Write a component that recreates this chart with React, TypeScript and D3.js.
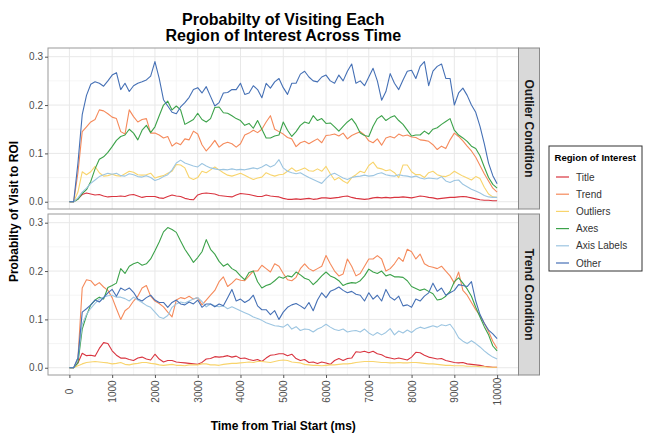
import React, { useEffect, useRef } from 'react';
import * as d3 from 'd3';

// Sample times (ms), one reading every 100 ms
const timeMs = d3.range(0, 10001, 100);
const timeTicks = d3.range(0, 10001, 1000);
const timeMinorTicks = d3.range(500, 10000, 1000);
const probTicks = [0, 0.1, 0.2, 0.3];
const probMinorTicks = [0.05, 0.15, 0.25];

const regions = ['Title', 'Trend', 'Outliers', 'Axes', 'Axis Labels', 'Other'];
const conditions = ['Outlier Condition', 'Trend Condition'];

// ---- Outlier condition ----
const titleOutlier = [
  0, 0, .006, .015, .018, .016, .014, .015, .012, .01,
  .011, .011, .012, .011, .014, .015, .012, .009, .011, .011,
  .011, .008, .007, .011, .014, .012, .011, .007, .005, .004,
  .014, .017, .018, .017, .016, .013, .012, .011, .01, .014,
  .017, .016, .015, .013, .011, .011, .014, .012, .011, .01,
  .007, .005, .005, .006, .005, .006, .007, .005, .006, .008,
  .008, .007, .008, .009, .011, .012, .009, .007, .006, .005,
  .006, .008, .009, .008, .009, .008, .009, .009, .01, .009,
  .008, .01, .012, .011, .009, .008, .006, .007, .008, .009,
  .009, .01, .011, .01, .008, .006, .004, .003, .003, .002,
  .002
];
const trendOutlier = [
  0, 0, .06, .145, .155, .165, .17, .19, .188, .182,
  .175, .172, .145, .14, .19, .176, .165, .17, .172, .142,
  .142, .138, .132, .135, .115, .122, .118, .13, .128, .146,
  .14, .118, .105, .115, .127, .113, .12, .123, .12, .113,
  .12, .138, .142, .148, .143, .15, .165, .178, .15, .145,
  .14, .133, .13, .114, .122, .125, .12, .125, .13, .122,
  .137, .138, .14, .136, .142, .13, .137, .141, .145, .138,
  .126, .122, .13, .117, .132, .135, .132, .14, .136, .138,
  .134, .133, .128, .127, .125, .118, .108, .115, .11, .128,
  .142, .135, .126, .115, .105, .092, .075, .058, .043, .028,
  .02
];
const outliersOutlier = [
  0, 0, .02, .062, .056, .062, .073, .06, .053, .054,
  .057, .054, .053, .058, .063, .061, .056, .055, .056, .059,
  .049, .052, .054, .059, .063, .077, .076, .07, .05, .046,
  .05, .063, .06, .066, .072, .066, .06, .055, .053, .056,
  .059, .055, .05, .046, .049, .051, .06, .056, .053, .056,
  .057, .063, .07, .063, .066, .07, .064, .063, .068, .063,
  .073, .058, .045, .05, .043, .038, .05, .056, .063, .06,
  .075, .082, .07, .068, .064, .066, .06, .05, .076, .076,
  .062, .056, .056, .05, .06, .063, .056, .053, .052, .056,
  .063, .058, .053, .049, .045, .052, .048, .03, .016, .01,
  .009
];
const axesOutlier = [
  0, 0, .005, .017, .025, .042, .068, .088, .093, .102,
  .114, .127, .135, .138, .15, .142, .128, .148, .158, .143,
  .155, .178, .2, .208, .19, .198, .19, .16, .165, .17,
  .183, .17, .165, .172, .195, .196, .184, .183, .178, .172,
  .168, .158, .162, .152, .168, .15, .132, .132, .136, .138,
  .165, .148, .135, .145, .158, .165, .162, .178, .168, .172,
  .162, .163, .155, .146, .156, .165, .172, .16, .142, .137,
  .135, .156, .172, .178, .168, .174, .178, .168, .16, .148,
  .136, .138, .138, .146, .14, .15, .153, .16, .166, .172,
  .148, .138, .132, .125, .115, .11, .095, .072, .05, .036,
  .028
];
const axisLabelsOutlier = [
  0, 0, .008, .02, .028, .038, .045, .052, .056, .059,
  .057, .059, .054, .053, .058, .056, .052, .051, .054, .05,
  .044, .047, .052, .056, .066, .08, .086, .08, .077, .074,
  .072, .079, .074, .07, .068, .066, .067, .066, .068, .066,
  .067, .066, .068, .07, .068, .072, .077, .072, .076, .087,
  .07, .063, .06, .058, .06, .055, .05, .046, .042, .038,
  .048, .056, .059, .054, .049, .046, .05, .052, .053, .055,
  .053, .054, .058, .06, .056, .054, .053, .056, .054, .053,
  .051, .053, .049, .047, .049, .048, .047, .052, .043, .04,
  .044, .045, .036, .031, .026, .022, .018, .013, .01, .009,
  .009
];
const otherOutlier = [
  0, 0, .08, .18, .22, .243, .248, .245, .239, .25,
  .262, .267, .232, .245, .228, .24, .245, .248, .252, .26,
  .29, .255, .211, .198, .185, .182, .196, .205, .216, .232,
  .236, .225, .238, .218, .198, .205, .225, .226, .232, .232,
  .245, .222, .225, .24, .232, .215, .245, .235, .248, .255,
  .236, .222, .245, .245, .264, .27, .258, .25, .248, .258,
  .262, .25, .245, .262, .25, .27, .285, .245, .25, .24,
  .258, .276, .25, .21, .228, .265, .245, .232, .252, .27,
  .272, .255, .28, .29, .24, .27, .28, .285, .255, .255,
  .2, .225, .235, .22, .2, .185, .156, .12, .08, .054,
  .037
];

// ---- Trend condition ----
const titleTrend = [
  0, 0, .01, .03, .025, .026, .024, .04, .052, .05,
  .035, .026, .02, .02, .017, .015, .02, .022, .018, .016,
  .028, .018, .012, .015, .015, .012, .011, .01, .009, .008,
  .007, .011, .018, .019, .023, .022, .023, .025, .022, .024,
  .019, .02, .017, .015, .017, .013, .02, .026, .027, .029,
  .029, .025, .028, .019, .015, .017, .011, .012, .009, .012,
  .01, .007, .015, .019, .015, .019, .02, .033, .032, .034,
  .031, .034, .029, .027, .022, .02, .018, .02, .018, .016,
  .022, .032, .031, .026, .022, .02, .018, .019, .015, .013,
  .011, .01, .011, .008, .007, .006, .005, .003, .002, .001,
  .001
];
const trendTrend = [
  0, 0, .02, .165, .182, .18, .17, .176, .167, .16,
  .145, .122, .1, .118, .125, .138, .148, .165, .17, .148,
  .138, .133, .126, .115, .105, .14, .145, .143, .148, .142,
  .145, .13, .14, .15, .16, .178, .188, .168, .175, .184,
  .181, .18, .19, .2, .2, .212, .205, .198, .215, .21,
  .195, .182, .18, .187, .205, .215, .205, .2, .205, .21,
  .232, .215, .2, .19, .194, .225, .21, .19, .195, .21,
  .225, .225, .232, .225, .2, .205, .215, .228, .22, .245,
  .24, .225, .235, .215, .21, .208, .205, .21, .2, .19,
  .175, .198, .16, .15, .135, .12, .108, .092, .075, .055,
  .04
];
const outliersTrend = [
  0, 0, .004, .008, .011, .012, .013, .012, .011, .01,
  .008, .009, .011, .007, .006, .008, .009, .011, .011, .009,
  .008, .006, .005, .006, .007, .005, .005, .004, .006, .006,
  .006, .008, .008, .006, .006, .005, .007, .008, .009, .009,
  .01, .011, .012, .011, .013, .013, .012, .011, .013, .015,
  .016, .015, .012, .011, .01, .007, .006, .005, .005, .004,
  .005, .006, .006, .007, .008, .008, .009, .011, .012, .013,
  .013, .013, .012, .011, .011, .01, .01, .011, .01, .01,
  .011, .011, .01, .009, .008, .008, .007, .006, .005, .005,
  .004, .004, .004, .003, .003, .003, .002, .002, .001, .001,
  .001
];
const axesTrend = [
  0, 0, .01, .08, .108, .13, .14, .146, .142, .166,
  .17, .175, .205, .195, .21, .215, .218, .212, .215, .225,
  .242, .26, .281, .29, .286, .28, .262, .245, .232, .218,
  .228, .24, .265, .245, .235, .22, .21, .215, .205, .2,
  .19, .182, .197, .2, .178, .165, .17, .173, .18, .188,
  .185, .19, .188, .198, .192, .185, .182, .172, .18, .19,
  .198, .19, .186, .18, .17, .174, .176, .175, .18, .19,
  .204, .198, .195, .2, .19, .193, .188, .188, .187, .18,
  .168, .164, .16, .163, .158, .153, .14, .142, .148, .158,
  .178, .186, .175, .163, .148, .125, .105, .085, .068, .045,
  .035
];
const axisLabelsTrend = [
  0, 0, .02, .09, .11, .123, .133, .142, .146, .149,
  .15, .146, .146, .143, .138, .146, .14, .135, .129, .125,
  .115, .105, .102, .108, .125, .132, .136, .134, .138, .142,
  .145, .137, .126, .132, .128, .126, .128, .122, .126, .122,
  .118, .114, .11, .105, .102, .098, .093, .09, .087, .086,
  .084, .09, .08, .085, .077, .08, .079, .074, .08, .084,
  .09, .084, .079, .077, .08, .074, .076, .077, .074, .08,
  .072, .067, .073, .068, .073, .081, .068, .076, .072, .078,
  .073, .08, .084, .081, .084, .087, .084, .089, .087, .09,
  .078, .062, .055, .05, .056, .05, .043, .035, .028, .022,
  .018
];
const otherTrend = [
  0, 0, .02, .115, .122, .13, .14, .136, .145, .155,
  .162, .148, .165, .16, .165, .156, .142, .138, .145, .15,
  .14, .135, .135, .125, .135, .14, .132, .13, .136, .132,
  .14, .125, .132, .132, .126, .132, .128, .145, .162, .138,
  .142, .135, .14, .15, .128, .12, .12, .11, .118, .1,
  .115, .125, .13, .133, .128, .122, .135, .118, .14, .155,
  .145, .158, .162, .167, .16, .155, .158, .152, .15, .138,
  .155, .142, .15, .138, .162, .146, .14, .148, .128, .13,
  .125, .142, .138, .148, .155, .175, .158, .165, .15, .155,
  .16, .172, .17, .168, .178, .138, .11, .092, .078, .07,
  .06
];

const seriesByCondition = [
  [titleOutlier, trendOutlier, outliersOutlier, axesOutlier, axisLabelsOutlier, otherOutlier],
  [titleTrend, trendTrend, outliersTrend, axesTrend, axisLabelsTrend, otherTrend]
];

const regionColors = ['#d9343f', '#f58a5b', '#f8d46c', '#3ca24a', '#9cc5e1', '#4570b5'];
const FONT = '"Liberation Sans", Arial, Helvetica, sans-serif';

const FacetChart: React.FC = () => {
  const svgRef = useRef<SVGSVGElement>(null);

  useEffect(() => {
    if (!svgRef.current) return;
    document.body.style.margin = '0';

    const width = 650;
    const height = 435;
    const panelLeft = 48;
    const panelRight = 518.5;
    const panelTops = [48, 214];
    const panelHeight = 161;
    const stripWidth = 21;

    d3.select(svgRef.current).selectAll('*').remove();

    const svg = d3.select(svgRef.current)
      .attr('width', width)
      .attr('height', height)
      .style('font-family', FONT)
      .style('background', '#fff');

    const color = d3.scaleOrdinal<string, string>().domain(regions).range(regionColors);

    const xScale = d3.scaleLinear()
      .domain([-500, 10500])
      .range([panelLeft, panelRight]);

    // Title (two lines)
    ['Probabilty of Visiting Each', 'Region of Interest Across Time'].forEach((line, i) => {
      svg.append('text')
        .attr('x', (panelLeft + panelRight) / 2)
        .attr('y', 24.5 + i * 16.5)
        .attr('text-anchor', 'middle')
        .style('font-size', '16px')
        .style('font-weight', 'bold')
        .style('fill', '#000')
        .text(line);
    });

    conditions.forEach((condition, pi) => {
      const top = panelTops[pi];
      const bottom = top + panelHeight;
      const yScale = d3.scaleLinear()
        .domain([-0.015, 0.318])
        .range([bottom, top]);

      const g = svg.append('g');

      // Panel background
      g.append('rect')
        .attr('x', panelLeft)
        .attr('y', top)
        .attr('width', panelRight - panelLeft)
        .attr('height', panelHeight)
        .attr('fill', '#fff');

      // Minor grid
      g.selectAll('.vminor')
        .data(timeMinorTicks)
        .enter()
        .append('line')
        .attr('x1', d => xScale(d))
        .attr('x2', d => xScale(d))
        .attr('y1', top)
        .attr('y2', bottom)
        .attr('stroke', '#f3f3f3')
        .attr('stroke-width', 0.8);

      g.selectAll('.hminor')
        .data(probMinorTicks)
        .enter()
        .append('line')
        .attr('x1', panelLeft)
        .attr('x2', panelRight)
        .attr('y1', d => yScale(d))
        .attr('y2', d => yScale(d))
        .attr('stroke', '#f3f3f3')
        .attr('stroke-width', 0.8);

      // Major grid
      g.selectAll('.vmajor')
        .data(timeTicks)
        .enter()
        .append('line')
        .attr('x1', d => xScale(d))
        .attr('x2', d => xScale(d))
        .attr('y1', top)
        .attr('y2', bottom)
        .attr('stroke', '#e8e8e8')
        .attr('stroke-width', 1);

      g.selectAll('.hmajor')
        .data(probTicks)
        .enter()
        .append('line')
        .attr('x1', panelLeft)
        .attr('x2', panelRight)
        .attr('y1', d => yScale(d))
        .attr('y2', d => yScale(d))
        .attr('stroke', '#e8e8e8')
        .attr('stroke-width', 1);

      // Lines, one per region (Other drawn last, on top)
      const line = d3.line<number>()
        .x((d, i) => xScale(timeMs[i]))
        .y(d => yScale(d));

      seriesByCondition[pi].forEach((values, ri) => {
        g.append('path')
          .datum(values)
          .attr('fill', 'none')
          .attr('stroke', color(regions[ri]))
          .attr('stroke-width', 1.1)
          .attr('stroke-linejoin', 'round')
          .attr('d', line);
      });

      // Panel border
      g.append('rect')
        .attr('x', panelLeft)
        .attr('y', top)
        .attr('width', panelRight - panelLeft)
        .attr('height', panelHeight)
        .attr('fill', 'none')
        .attr('stroke', '#9a9a9a')
        .attr('stroke-width', 1);

      // Y axis
      const yAxis = g.append('g')
        .attr('transform', `translate(${panelLeft},0)`)
        .call(d3.axisLeft(yScale)
          .tickValues(probTicks)
          .tickSize(3)
          .tickPadding(2)
          .tickFormat(d3.format('.1f')));
      yAxis.select('.domain').remove();
      yAxis.selectAll('line').attr('stroke', '#555');
      yAxis.selectAll('text')
        .style('font-family', FONT)
        .style('font-size', '10px')
        .style('fill', '#4d4d4d');

      // Facet strip
      g.append('rect')
        .attr('x', panelRight)
        .attr('y', top)
        .attr('width', stripWidth)
        .attr('height', panelHeight)
        .attr('fill', '#d9d9d9')
        .attr('stroke', '#8a8a8a')
        .attr('stroke-width', 1);

      g.append('text')
        .attr('transform', `translate(${panelRight + stripWidth / 2},${top + panelHeight / 2}) rotate(90)`)
        .attr('text-anchor', 'middle')
        .attr('dy', '0.35em')
        .style('font-size', '12px')
        .style('font-weight', 'bold')
        .style('fill', '#1a1a1a')
        .text(condition);
    });

    // X axis (under the bottom panel)
    const xAxisY = panelTops[1] + panelHeight;
    const xAxis = svg.append('g')
      .attr('transform', `translate(0,${xAxisY})`)
      .call(d3.axisBottom(xScale).tickValues(timeTicks).tickSize(3).tickFormat(d3.format('d')));
    xAxis.select('.domain').remove();
    xAxis.selectAll('line').attr('stroke', '#555');
    xAxis.selectAll('text')
      .attr('x', 0)
      .attr('y', 0)
      .attr('dy', '0.35em')
      .attr('text-anchor', 'middle')
      .attr('transform', 'translate(0,16.5) rotate(-90)')
      .style('font-family', FONT)
      .style('font-size', '10px')
      .style('fill', '#4d4d4d');

    // Axis titles
    svg.append('text')
      .attr('x', (panelLeft + panelRight) / 2)
      .attr('y', 430)
      .attr('text-anchor', 'middle')
      .style('font-size', '12px')
      .style('font-weight', 'bold')
      .style('fill', '#000')
      .text('Time from Trial Start (ms)');

    svg.append('text')
      .attr('transform', `translate(14,${(panelTops[0] + panelTops[1] + panelHeight) / 2}) rotate(-90)`)
      .attr('text-anchor', 'middle')
      .attr('dy', '0.35em')
      .style('font-size', '12px')
      .style('font-weight', 'bold')
      .style('fill', '#000')
      .text('Probabilty of Visit to ROI');

    // Legend
    const legend = svg.append('g')
      .attr('transform', 'translate(549,146)');

    legend.append('rect')
      .attr('x', 0)
      .attr('y', 0)
      .attr('width', 93)
      .attr('height', 125)
      .attr('fill', '#fff')
      .attr('stroke', '#333')
      .attr('stroke-width', 1);

    legend.append('text')
      .attr('x', 5.5)
      .attr('y', 15)
      .style('font-size', '9.6px')
      .style('font-weight', 'bold')
      .style('fill', '#000')
      .text('Region of Interest');

    regions.forEach((region, i) => {
      const cy = 31 + i * 17.2;
      legend.append('line')
        .attr('x1', 7)
        .attr('x2', 20)
        .attr('y1', cy)
        .attr('y2', cy)
        .attr('stroke', color(region))
        .attr('stroke-width', 1.2);
      legend.append('text')
        .attr('x', 27)
        .attr('y', cy)
        .attr('dy', '0.35em')
        .style('font-size', '10px')
        .style('fill', '#333')
        .text(region);
    });
  }, []);

  return (
    <div className="facet-chart">
      <svg ref={svgRef} style={{ display: 'block' }}></svg>
    </div>
  );
};

export default function App() {
  return <FacetChart />;
}
